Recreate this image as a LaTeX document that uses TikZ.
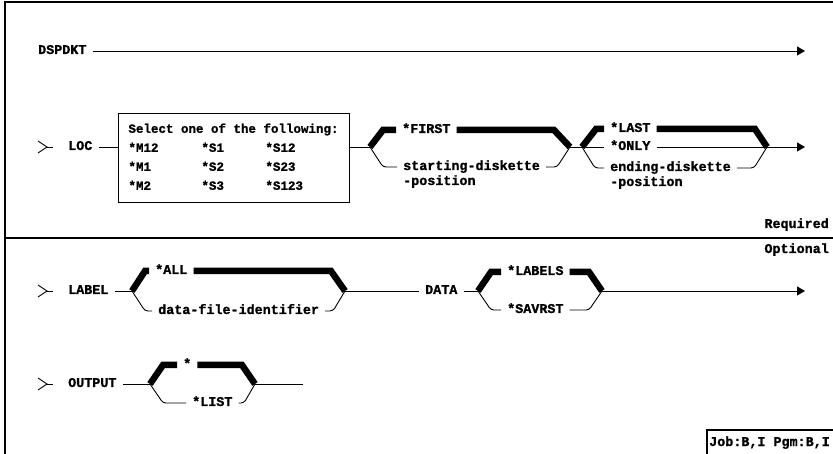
\documentclass[tikz,border=0pt]{standalone}
\usepackage{fontspec}
\setmonofont{Liberation Mono}[BoldFeatures={FakeBold=1.2}]
\usetikzlibrary{arrows.meta, calc, positioning}

\begin{document}
\begin{tikzpicture}[
    x=1pt, y=-1pt,
    line/.style={line width=0.9pt},
    heavy/.style={line width=6.5pt},
    frame/.style={line width=1.3pt},
    arr/.style={line width=0.9pt, -{Triangle[length=8pt, width=9pt]}},
    kw/.style={font=\ttfamily\bfseries\fontsize{13.4}{15}\selectfont, anchor=west,
               inner xsep=6pt, inner ysep=0pt, text height=8pt, text depth=2pt},
    note/.style={kw, anchor=east, inner xsep=0pt},
    selbox/.style={draw, line width=0.9pt, minimum width=231pt, minimum height=89pt,
                   inner sep=0pt, font=\ttfamily\bfseries\fontsize{12.5}{19}\selectfont},
]

\def\yA{51}
\def\yB{147}
\def\yC{291}
\def\yD{384}

\useasboundingbox (0,0) rectangle (833,454);

% frame and divider
\draw[frame] (5,454) -- (5,2) -- (833,2);
\draw[frame] (5,238) -- (833,238);

% DSPDKT
\node[kw] (dspdkt) at (32,\yA) {DSPDKT};
\coordinate (dspend) at (805,\yA);
\draw[arr] (dspdkt) -- (dspend);

% LOC with the selection box
\node[kw] (loc) at (62,\yB) {LOC};
\node[selbox] (locbox) at (233.5,157.5) {%
    \begin{tabular}{@{}p{73pt}@{}p{64pt}@{}l@{}}
    \multicolumn{3}{@{}l@{}}{Select one of the following:}\\
    {*}M12 & {*}S1 & {*}S12\\
    {*}M1  & {*}S2 & {*}S23\\
    {*}M2  & {*}S3 & {*}S123
    \end{tabular}};
\draw[line] (loc) -- (locbox.west |- loc);

% starting position
\coordinate (firstfork) at (370,\yB);
\coordinate (firstjoin) at (570,\yB);
\node[kw] (first) at (396,\yB-17) {*FIRST};
\node[kw] (startpos) at (397,\yB+20) {starting-diskette};
\node[kw] (startposb) at ([yshift=-15pt]startpos.west) {-position};
\draw[line] (locbox.east |- firstfork) -- (firstfork);
\draw[heavy] (firstfork) -- ++(13,-17) -- (first.west);
\draw[heavy] (first.east) -- ($(firstjoin |- first.east)+(-16,0)$) -- (firstjoin);
\draw[line, rounded corners=3pt] (firstfork) -- ++(13,20) -- (startpos.west);
\draw[line, rounded corners=3pt] (startpos.east) -- ($(firstjoin |- startpos.east)+(-13,0)$) -- (firstjoin);

% ending position
\coordinate (lastfork) at (582,\yB);
\coordinate (lastjoin) at (767,\yB);
\coordinate (locend) at (805,\yB);
\node[kw] (last) at (604,\yB-18) {*LAST};
\node[kw] (only) at (604,\yB) {*ONLY};
\node[kw] (endpos) at (604,\yB+21) {ending-diskette};
\node[kw] (endposb) at ([yshift=-15pt]endpos.west) {-position};
\draw[line] (firstjoin) -- (lastfork);
\draw[heavy] (lastfork) -- ++(14,-18) -- (last.west);
\draw[heavy] (last.east) -- ($(lastjoin |- last.east)+(-12,0)$) -- (lastjoin);
\draw[line] (lastfork) -- (only);
\draw[line] (only) -- (lastjoin);
\draw[line, rounded corners=3pt] (lastfork) -- ++(13,21) -- (endpos.west);
\draw[line, rounded corners=3pt] (endpos.east) -- ($(lastjoin |- endpos.east)+(-13,0)$) -- (lastjoin);
\draw[arr] (lastjoin) -- (locend);

\node[note] (required) at (829,225) {Required};
\node[note] (optional) at (829,250) {Optional};

% LABEL
\node[kw] (label) at (62,\yC) {LABEL};
\coordinate (labelfork) at (132,\yC);
\coordinate (labeljoin) at (345,\yC);
\node[kw] (allopt) at (149,\yC-20) {*ALL};
\node[kw] (dfid) at (152,\yC+20) {data-file-identifier};
\draw[line] (label) -- (labelfork);
\draw[heavy] (labelfork) -- ++(13,-20) -- (allopt.west);
\draw[heavy] (allopt.east) -- ($(labeljoin |- allopt.east)+(-14,0)$) -- (labeljoin);
\draw[line, rounded corners=3pt] (labelfork) -- ++(13,20) -- (dfid.west);
\draw[line, rounded corners=3pt] (dfid.east) -- ($(labeljoin |- dfid.east)+(-12,0)$) -- (labeljoin);

% DATA
\node[kw] (data) at (419,\yC) {DATA};
\coordinate (datafork) at (478,\yC);
\coordinate (datajoin) at (602,\yC);
\coordinate (dataend) at (805,\yC);
\node[kw] (labels) at (501,\yC-19) {*LABELS};
\node[kw] (savrst) at (501,\yC+19) {*SAVRST};
\draw[line] (labeljoin) -- (data);
\draw[line] (data) -- (datafork);
\draw[heavy] (datafork) -- ++(13,-19) -- (labels.west);
\draw[heavy] (labels.east) -- ($(datajoin |- labels.east)+(-13,0)$) -- (datajoin);
\draw[line, rounded corners=3pt] (datafork) -- ++(13,19) -- (savrst.west);
\draw[line, rounded corners=3pt] (savrst.east) -- ($(datajoin |- savrst.east)+(-13,0)$) -- (datajoin);
\draw[arr] (datajoin) -- (dataend);

% OUTPUT
\node[kw] (output) at (62,\yD) {OUTPUT};
\coordinate (outfork) at (150,\yD);
\coordinate (outjoin) at (255,\yD);
\coordinate (outend) at (303,\yD);
\node[kw] (star) at (177,\yD-19) {*};
\node[kw] (list) at (186,\yD+19) {*LIST};
\draw[line] (output) -- (outfork);
\draw[heavy] (outfork) -- ++(13,-19) -- (star.west);
\draw[heavy] (star.east) -- ($(outjoin |- star.east)+(-13,0)$) -- (outjoin);
\draw[line, rounded corners=3pt] (outfork) -- ++(13,19) -- (list.west);
\draw[line, rounded corners=3pt] (list.east) -- ($(outjoin |- list.east)+(-11,0)$) -- (outjoin);
\draw[line] (outjoin) -- (outend);

% start marks
\foreach \r in {loc, label, output} {
    \draw[line] ([shift={(-24pt,6pt)}]\r.west) -- ([xshift=-15pt]\r.west)
        -- ([shift={(-24pt,-6pt)}]\r.west);
    \draw[line] ([xshift=-16pt]\r.west) -- ([xshift=-9pt]\r.west);
}

% job box
\draw[frame] (707,454) -- (707,430) -- (833,430);
\node[kw] (job) at (703,443) {Job:B,I Pgm:B,I};

\end{tikzpicture}
\end{document}
